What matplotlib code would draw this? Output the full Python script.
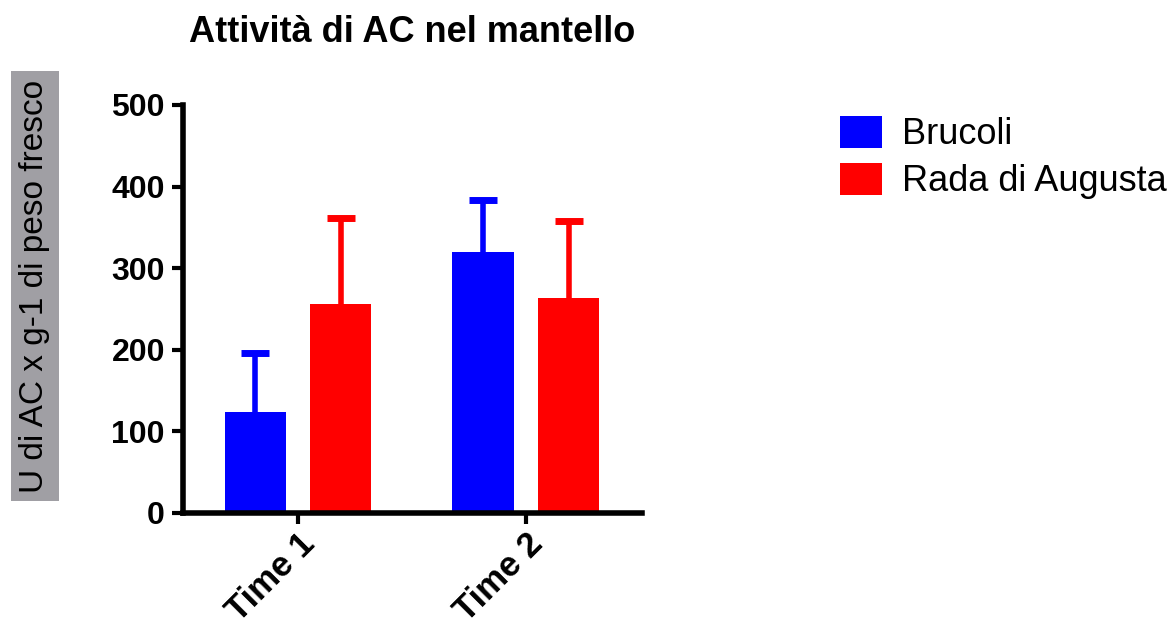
import matplotlib
matplotlib.use("Agg")
import matplotlib.pyplot as plt
import numpy as np
from matplotlib.patches import Patch

plt.rcParams['font.family'] = ['Liberation Sans', 'DejaVu Sans']

# Data
groups = ["Time 1", "Time 2"]
series = ["Brucoli", "Rada di Augusta"]
brucoli = [124, 320]
brucoli_err = [72, 64]
rada = [256, 264]
rada_err = [106, 94]
colors = ["#0000ff", "#ff0000"]

fig = plt.figure(figsize=(11.76, 6.25), dpi=100)
ax = fig.add_axes([183 / 1176, 1 - 513 / 625, (642 - 183) / 1176, (513 - 105) / 625])

x = np.arange(len(groups))
width = 0.268
offset = 0.188
cap_half = 0.062
for vals, errs, col, off, name in [(brucoli, brucoli_err, colors[0], -offset, series[0]),
                                   (rada, rada_err, colors[1], offset, series[1])]:
    vals = np.asarray(vals)
    errs = np.asarray(errs)
    pos = x + off
    ax.bar(pos, vals, width, color=col, label=name, zorder=2)
    # upper-only error bars with a cap
    ax.vlines(pos, vals, vals + errs, colors=col, linewidth=4, zorder=1)
    ax.hlines(vals + errs, pos - cap_half, pos + cap_half, colors=col,
              linewidth=5, zorder=1)

ax.set_xlim(-0.505, 1.51)
ax.set_ylim(0, 500)
ax.set_yticks([0, 100, 200, 300, 400, 500])
ax.set_xticks(x)
ax.set_xticklabels(groups, rotation=45, ha='right', rotation_mode='anchor',
                   fontsize=25, fontweight='bold')
for lbl in ax.get_yticklabels():
    lbl.set_fontweight('bold')
ax.tick_params(axis='y', labelsize=23, width=3, length=8, pad=5)
ax.tick_params(axis='x', width=3, length=8, pad=2)

for side in ['top', 'right']:
    ax.spines[side].set_visible(False)
for side in ['left', 'bottom']:
    ax.spines[side].set_linewidth(4)

fig.text((183 + 642) / 2 / 1176, 1 - 33 / 625, "Attività di AC nel mantello",
         ha='center', va='center', fontsize=26, fontweight='bold')

fig.text(35 / 1176, 1 - 286 / 625, "U di AC x g-1 di peso fresco",
         rotation=90, ha='center', va='center', fontsize=24,
         bbox=dict(facecolor='#a09fa4', edgecolor='none', pad=6))

handles = [Patch(facecolor=c, edgecolor='none') for c in colors]
fig.legend(handles, series, loc='upper left', bbox_to_anchor=(840 / 1176, 1 - 116 / 625),
           frameon=False, fontsize=26, handlelength=1.17, handleheight=0.98,
           handletextpad=0.55, labelspacing=0.3, borderaxespad=0, borderpad=0)

fig.savefig("out.png", dpi=100)
